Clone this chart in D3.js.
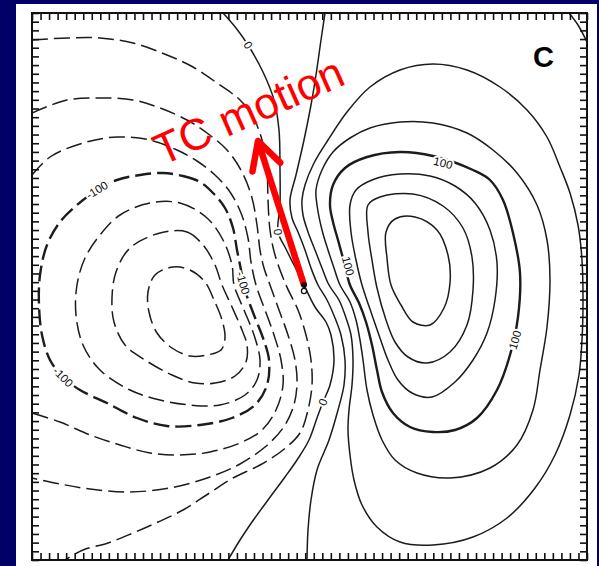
<!DOCTYPE html>
<html>
<head>
<meta charset="utf-8">
<script src="https://cdn.jsdelivr.net/npm/d3@7"></script>
<style>
  html, body { margin: 0; padding: 0; background: #000066; }
  svg { display: block; }
</style>
</head>
<body>
<svg width="599" height="566"></svg>
<script>
// digitized contours, grid units (x east, y south), interval 25
var cM175 = [[14.1,25.4],[15.8,25.7],[17.3,26.9],[18.2,28.7],[19.0,30.7],[19.3,32.5],[18.9,33.7],[17.5,34.2],[15.8,34.3],[14.0,33.5],[12.5,32.0],[11.7,29.9],[11.6,27.9],[12.3,26.2]];
var cM150 = [[12.8,22.0],[15.5,21.9],[17.1,23.2],[18.3,25.2],[19.0,27.2],[20.0,29.4],[21.0,31.7],[21.5,33.2],[21.4,34.9],[20.3,36.3],[18.3,37.0],[16.3,37.0],[14.0,36.2],[11.3,34.7],[9.3,33.2],[8.2,30.9],[8.0,28.5],[8.4,25.9],[9.8,23.5]];
var cM125 = [[11.8,19.0],[14.8,19.0],[17.5,20.5],[19.1,22.7],[20.0,25.2],[20.2,27.2],[21.2,29.7],[22.2,32.2],[22.8,34.7],[22.5,36.7],[21.3,38.2],[18.8,39.2],[15.8,39.2],[12.8,38.7],[9.8,37.7],[6.8,35.7],[5.1,33.2],[4.4,30.2],[4.5,27.2],[5.3,24.5],[6.8,22.2],[8.8,20.2]];
var cM100 = [[13.1,16.0],[15.1,16.3],[16.8,16.9],[18.1,18.0],[19.3,19.5],[20.1,21.5],[20.5,23.7],[20.9,25.7],[21.3,27.7],[22.2,30.2],[23.1,32.5],[23.7,34.7],[23.5,37.2],[22.3,39.2],[20.0,40.5],[16.8,41.2],[13.5,41.3],[10.5,40.5],[7.5,39.0],[4.8,37.7],[3.1,36.4],[1.8,34.7],[1.0,32.2],[0.7,29.2],[0.8,26.2],[1.5,23.2],[2.8,20.9],[4.5,19.2],[6.5,17.7],[8.5,16.7],[10.8,16.2]];
var cM75 = [[0,16.2],[1.8,14.4],[5.1,13.0],[8.5,12.4],[11.8,12.7],[14.5,13.7],[16.5,14.8],[18.3,16.2],[19.8,17.9],[20.9,20.0],[21.6,22.5],[21.9,24.9],[22.4,27.2],[23.3,29.7],[24.2,32.2],[24.9,34.7],[25.1,37.2],[24.4,39.7],[23.0,41.7],[20.8,43.0],[17.8,43.9],[14.8,44.2],[11.8,44.0],[8.8,43.2],[5.8,42.2],[2.8,40.9],[0,40.0]];
var cM50 = [[0,10.0],[3.5,8.7],[6.8,8.5],[10.1,8.7],[12.8,9.5],[15.5,10.7],[17.5,12.0],[19.5,13.7],[21.0,15.9],[22.0,18.5],[22.5,21.2],[22.8,23.7],[23.2,25.5],[23.8,27.2],[24.7,29.7],[25.6,32.2],[26.3,34.7],[26.5,37.2],[26.1,39.5],[25.1,41.5],[23.3,43.4],[20.8,45.1],[17.8,46.4],[13.8,47.5],[9.5,47.9],[5.8,47.6],[2.8,47.1],[0,46.5]];
var cM25 = [[0,2.7],[3.5,2.5],[6.8,2.5],[10.1,3.0],[13.5,4.2],[16.1,5.4],[18.5,7.0],[20.8,8.7],[22.1,10.4],[23.0,12.7],[23.5,15.7],[23.6,18.7],[23.8,21.7],[24.3,24.2],[25.4,27.2],[26.6,29.7],[27.4,32.2],[27.9,34.7],[28.0,37.2],[27.6,39.7],[26.8,42.0],[25.1,43.7],[22.8,45.2],[20.1,46.5],[17.6,48.1],[15.1,49.7],[12.6,50.9],[10.1,52.0],[7.6,53.0],[5.1,53.7],[3.3,54.7]];
var c0 = [[19.1,0],[20.4,1.5],[21.6,3.2],[23.1,5.9],[24.2,8.7],[24.7,11.7],[24.8,15.7],[24.8,19.2],[24.6,21.9],[25.3,23.4],[26.2,25.2],[27.2,27.2],[28.3,29.4],[29.4,30.9],[29.9,32.2],[30.2,34.7],[29.8,37.2],[29.1,38.9],[28.5,40.5],[27.7,42.7],[26.5,44.7],[25.3,46.4],[23.6,48.7],[22.0,50.9],[20.8,52.7],[19.6,54.7]];
var cP25 = [[29.3,0],[28.9,2.7],[28.4,6.2],[27.9,9.2],[27.2,12.7],[26.4,16.2],[25.8,18.7],[26.0,20.5],[26.6,21.9],[27.3,23.7],[27.9,25.5],[28.6,27.2],[29.5,28.7],[30.3,30.5],[30.9,32.2],[31.3,34.7],[31.2,37.2],[30.6,39.7],[29.7,42.7],[28.5,45.7],[27.9,48.7],[27.6,51.7],[27.5,54.7]];
var cP25corner = [[53.7,0],[54.6,1.2],[55.5,2.9]];
var cP50 = [[36.8,5.7],[40.1,5.1],[43.5,5.7],[46.8,7.4],[49.5,9.7],[51.5,12.4],[52.8,15.4],[53.8,18.0],[54.6,21.2],[55.0,24.7],[55.1,28.7],[55.0,32.7],[54.7,36.2],[53.8,40.2],[52.3,44.2],[50.3,47.5],[47.5,50.5],[44.1,52.4],[40.1,53.2],[36.8,52.9],[34.5,51.4],[33.0,49.2],[32.2,46.7],[31.8,44.2],[31.6,41.7],[31.7,39.7],[32.0,37.2],[32.1,34.7],[31.9,32.2],[31.4,30.5],[30.7,28.7],[29.7,27.2],[29.0,25.5],[28.3,23.7],[27.6,21.9],[27.1,20.2],[27.0,18.7],[27.3,17.2],[28.2,15.0],[29.6,12.7],[31.5,9.9],[33.8,7.4]];
var cP75 = [[28.5,19.2],[28.4,17.7],[29.0,15.7],[30.1,13.9],[31.8,12.5],[33.8,11.5],[36.8,10.9],[40.1,11.0],[43.5,12.0],[46.1,13.7],[48.5,16.0],[50.5,19.2],[51.5,22.7],[51.8,26.7],[51.5,31.4],[50.8,35.7],[50.1,39.7],[48.5,43.2],[45.8,45.5],[41.8,46.5],[38.5,46.0],[36.3,44.7],[35.0,42.7],[34.1,40.2],[33.5,37.7],[33.1,34.7],[32.8,32.7],[32.4,30.7],[31.8,28.9],[30.8,27.2],[30.2,25.5],[29.6,23.7],[29.0,21.7]];
var cP100 = [[29.8,19.2],[30.1,17.2],[31.3,15.5],[33.5,14.4],[36.8,13.9],[40.1,14.3],[44.1,15.7],[45.8,16.7],[47.1,18.7],[48.1,22.0],[48.8,26.0],[48.6,30.4],[47.8,34.2],[46.5,37.7],[44.5,40.5],[42.3,41.7],[40.1,41.9],[37.8,41.4],[36.1,40.0],[35.0,37.9],[34.5,35.7],[34.0,33.2],[33.4,30.9],[32.7,29.0],[31.8,27.2],[31.2,24.9],[30.6,22.7],[30.1,20.9]];
var cP125 = [[31.8,19.2],[32.4,17.7],[34.0,16.7],[36.8,16.1],[39.8,16.3],[42.3,17.3],[44.3,19.0],[45.8,21.7],[46.5,25.0],[46.3,28.7],[45.5,32.0],[44.1,34.7],[42.3,36.9],[40.0,38.4],[38.0,38.0],[36.6,36.7],[35.6,34.7],[34.8,32.5],[34.0,30.2],[33.0,27.2],[32.4,24.7],[31.9,21.9]];
var cP150 = [[33.6,19.2],[34.8,18.4],[38.1,18.1],[41.1,19.3],[43.1,21.5],[44.0,24.4],[44.1,27.7],[43.5,31.2],[41.8,33.9],[39.5,35.0],[37.6,34.4],[36.3,32.9],[35.4,30.7],[34.5,27.5],[34.0,24.7],[33.6,21.9]];
var cP175 = [[35.4,21.9],[36.3,20.6],[38.3,20.4],[40.5,21.7],[41.6,24.2],[41.8,27.0],[41.2,29.5],[39.8,31.2],[38.1,30.9],[36.9,29.2],[35.9,27.2],[35.5,24.5]];

// contour labels: level and where it is written
var labelLevels = [0, 0, 0, 100, 100, 100, -100, -100, -100];
var labelAt = [[21.6,3.2],[24.6,21.9],[29.1,38.9],[41.1,15.0],[48.3,32.7],[31.6,25.3],[6.5,17.7],[21.1,27.0],[3.1,36.4]];

// storm centre and motion
var tcCenter = [27.2, 27.2];
var tcMotionTip = [22.6, 12.8];

var contours = [
  { level: -175, closed: true,  pts: cM175 },
  { level: -150, closed: true,  pts: cM150 },
  { level: -125, closed: true,  pts: cM125 },
  { level: -100, closed: true,  pts: cM100 },
  { level: -75,  closed: false, pts: cM75 },
  { level: -50,  closed: false, pts: cM50 },
  { level: -25,  closed: false, pts: cM25 },
  { level: 0,    closed: false, pts: c0 },
  { level: 25,   closed: false, pts: cP25 },
  { level: 25,   closed: false, pts: cP25corner },
  { level: 50,   closed: true,  pts: cP50 },
  { level: 75,   closed: true,  pts: cP75 },
  { level: 100,  closed: true,  pts: cP100 },
  { level: 125,  closed: true,  pts: cP125 },
  { level: 150,  closed: true,  pts: cP150 },
  { level: 175,  closed: true,  pts: cP175 }
];

var svg = d3.select("svg");
var x = d3.scaleLinear().domain([0, 55.5]).range([32, 587]);
var y = d3.scaleLinear().domain([0, 54.7]).range([13, 560]);

// white page
svg.append("rect")
  .attr("x", 16).attr("y", 4).attr("width", 581).attr("height", 570)
  .attr("fill", "#fff");

svg.append("clipPath").attr("id", "plotClip")
  .append("rect")
  .attr("x", x(0)).attr("y", y(0))
  .attr("width", x(55.5) - x(0)).attr("height", y(54.7) - y(0));

var lineOpen = d3.line()
  .x(function (d) { return x(d[0]); })
  .y(function (d) { return y(d[1]); })
  .curve(d3.curveCatmullRom.alpha(0.5));
var lineClosed = d3.line()
  .x(function (d) { return x(d[0]); })
  .y(function (d) { return y(d[1]); })
  .curve(d3.curveCatmullRomClosed.alpha(0.5));

var plot = svg.append("g").attr("clip-path", "url(#plotClip)");

plot.selectAll("path.contour")
  .data(contours)
  .join("path")
  .attr("class", "contour")
  .attr("d", function (d) { return (d.closed ? lineClosed : lineOpen)(d.pts); })
  .attr("fill", "none")
  .attr("stroke", "#1c1c1c")
  .attr("stroke-width", function (d) { return Math.abs(d.level) === 100 ? 2.4 : 1.5; })
  .attr("stroke-dasharray", function (d) { return d.level < 0 ? "16,6" : null; });

// label angle from the contour direction near the label
function labelAngle(level, p) {
  var best = null, bi = 0, bd = Infinity;
  contours.forEach(function (c) {
    if (c.level !== level) return;
    c.pts.forEach(function (q, i) {
      var dd = (q[0] - p[0]) * (q[0] - p[0]) + (q[1] - p[1]) * (q[1] - p[1]);
      if (dd < bd) { bd = dd; best = c; bi = i; }
    });
  });
  var n = best.pts.length;
  var a = best.pts[best.closed ? (bi - 1 + n) % n : Math.max(bi - 1, 0)];
  var b = best.pts[best.closed ? (bi + 1) % n : Math.min(bi + 1, n - 1)];
  var ang = Math.atan2(y(b[1]) - y(a[1]), x(b[0]) - x(a[0])) * 180 / Math.PI;
  if (ang > 90) ang -= 180;
  if (ang < -90) ang += 180;
  return ang;
}

plot.selectAll("text.clabel")
  .data(labelLevels)
  .join("text")
  .attr("class", "clabel")
  .attr("transform", function (d, i) {
    return "translate(" + x(labelAt[i][0]) + "," + y(labelAt[i][1]) + ") rotate(" + labelAngle(d, labelAt[i]) + ")";
  })
  .attr("text-anchor", "middle")
  .attr("dy", "0.35em")
  .attr("font-family", "Liberation Sans, Arial, sans-serif")
  .attr("font-size", 11.5)
  .attr("fill", "#111")
  .attr("stroke", "#fff")
  .attr("stroke-width", 4)
  .attr("paint-order", "stroke")
  .text(function (d) { return d; });

// frame with inward ticks
var tx = d3.scaleLinear().domain([0, 65]).range([x(0), x(55.5)]);
var ty = d3.scaleLinear().domain([0, 63]).range([y(0), y(54.7)]);
function tickStyle(g) {
  g.select(".domain").remove();
  g.selectAll(".tick line").attr("stroke", "#111").attr("stroke-width", 1.6);
}
svg.append("g").attr("transform", "translate(0," + y(0) + ")")
  .call(d3.axisBottom(tx).tickValues(d3.range(66)).tickSize(7).tickFormat(""))
  .call(tickStyle);
svg.append("g").attr("transform", "translate(0," + y(54.7) + ")")
  .call(d3.axisTop(tx).tickValues(d3.range(66)).tickSize(7).tickFormat(""))
  .call(tickStyle);
svg.append("g").attr("transform", "translate(" + x(0) + ",0)")
  .call(d3.axisRight(ty).tickValues(d3.range(64)).tickSize(7).tickFormat(""))
  .call(tickStyle);
svg.append("g").attr("transform", "translate(" + x(55.5) + ",0)")
  .call(d3.axisLeft(ty).tickValues(d3.range(64)).tickSize(7).tickFormat(""))
  .call(tickStyle);
svg.append("rect")
  .attr("x", x(0)).attr("y", y(0))
  .attr("width", x(55.5) - x(0)).attr("height", y(54.7) - y(0))
  .attr("fill", "none").attr("stroke", "#111").attr("stroke-width", 2);

// panel letter
svg.append("text")
  .attr("x", x(50.1)).attr("y", y(5.4))
  .attr("font-family", "Liberation Sans, Arial, sans-serif")
  .attr("font-weight", "bold").attr("font-size", 29)
  .attr("fill", "#000")
  .text("C");

// TC centre and motion arrow
var bx = x(tcCenter[0]), by = y(tcCenter[1]);
var hx = x(tcMotionTip[0]), hy = y(tcMotionTip[1]);
var back = Math.atan2(by - hy, bx - hx);
var armLen = 31, armAng = 28 * Math.PI / 180;
var arm1 = [hx + armLen * Math.cos(back + armAng), hy + armLen * Math.sin(back + armAng)];
var arm2 = [hx + armLen * Math.cos(back - armAng), hy + armLen * Math.sin(back - armAng)];

svg.append("circle").attr("cx", bx).attr("cy", by + 6).attr("r", 2.6)
  .attr("fill", "#fff").attr("stroke", "#111").attr("stroke-width", 1.3);
svg.append("line")
  .attr("x1", bx).attr("y1", by).attr("x2", hx).attr("y2", hy)
  .attr("stroke", "#ff0000").attr("stroke-width", 6.5);
svg.append("path")
  .attr("d", "M" + arm1 + "L" + hx + "," + hy + "L" + arm2)
  .attr("fill", "none").attr("stroke", "#ff0000").attr("stroke-width", 6.5)
  .attr("stroke-linecap", "round").attr("stroke-linejoin", "round");
svg.append("circle").attr("cx", bx).attr("cy", by).attr("r", 3)
  .attr("fill", "#111");

svg.append("text")
  .attr("transform", "translate(" + x(13.0) + "," + y(15.3) + ") rotate(-24)")
  .attr("font-family", "Liberation Sans, Arial, sans-serif")
  .attr("font-size", 44)
  .attr("fill", "#ff0000")
  .text("TC motion");
</script>
</body>
</html>
